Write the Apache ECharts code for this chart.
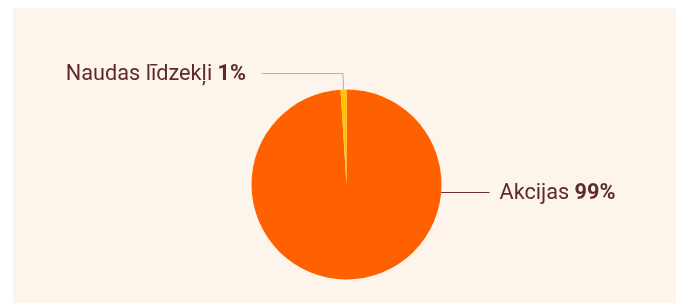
<!DOCTYPE html>
<html>
<head>
<meta charset="utf-8">
<script src="https://cdn.jsdelivr.net/npm/echarts@6/dist/echarts.min.js"></script>
<style>
  html, body { margin: 0; padding: 0; background: #fff; }
  #chart { position: absolute; left: 13px; top: 8px; width: 663px; height: 295px; }
</style>
</head>
<body>
<div id="chart"></div>
<script>
  // data
  var categories = ['Akcijas', 'Naudas līdzekļi']
  var values = [99, 1]
  var colors = ['#ff6000', '#ffc800']
  var lineColors = ['#6b2e2e', '#c4a9a6']

  var cx = 333.5, cy = 176.5, r = 95

  var chart = echarts.init(document.getElementById('chart'))

  chart.setOption({
    backgroundColor: '#fdf4eb',
    animation: false,
    series: [{
      type: 'pie',
      center: [cx, cy],
      radius: r,
      startAngle: 90,
      clockwise: true,
      data: categories.map(function (name, i) {
        return {
          name: name,
          value: values[i],
          itemStyle: { color: colors[i] },
          labelLine: { lineStyle: { color: lineColors[i], width: 1 } }
        }
      }),
      label: {
        show: true,
        formatter: '{b} {v|{d}%}',
        fontFamily: 'Roboto',
        fontSize: 21.7,
        color: '#5e2b2b',
        distanceToLabelLine: 16,
        rich: {
          v: { fontFamily: 'Roboto', fontSize: 21.7, fontWeight: 'bold', color: '#5e2b2b' }
        }
      },
      labelLine: {
        show: true,
        length: 16,
        length2: 81
      },
      labelLayout: function (params) {
        if (params.dataIndex === 0) {
          var y = cy + 8 // half pixel so the 1px line is crisp
          return {
            x: cx + r + 58,
            y: y + 1,
            align: 'left',
            verticalAlign: 'middle',
            labelLinePoints: [[cx + r - 1, y], [cx + r + 48, y], [cx + r + 48, y]]
          }
        }
        return { dy: 1 }
      }
    }]
  })
</script>
</body>
</html>
